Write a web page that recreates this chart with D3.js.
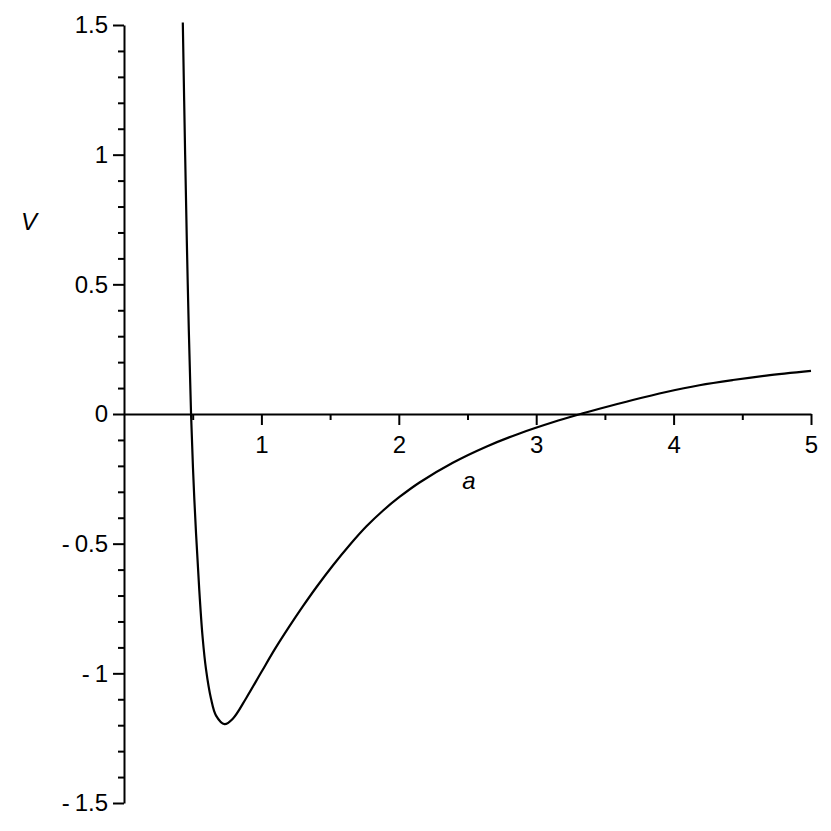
<!DOCTYPE html>
<html>
<head>
<meta charset="utf-8">
<script src="https://cdn.jsdelivr.net/npm/d3@7"></script>
<style>
  body { margin: 0; background: #fff; }
  svg { display: block; }
  text { font-family: "Liberation Sans", Arial, sans-serif; }
</style>
</head>
<body>
<div class="chart"></div>
<script>
// values: potential V against a
var aValues = [0.428, 0.445, 0.464, 0.488, 0.512, 0.548, 0.572, 0.597, 0.633, 0.670,
  0.732, 0.792, 0.89, 1.0, 1.1, 1.2, 1.3, 1.4, 1.52, 1.641,
  1.763, 1.884, 2.005, 2.151, 2.393, 2.636, 2.879, 3.121, 3.31, 3.46,
  3.703, 3.946, 4.188, 4.431, 4.674, 5.0];
var vValues = [1.51, 1.0, 0.5, 0.0, -0.33, -0.68, -0.86, -0.985, -1.097, -1.163,
  -1.196, -1.175, -1.095, -0.995, -0.905, -0.822, -0.743, -0.668, -0.584, -0.506,
  -0.434, -0.373, -0.32, -0.264, -0.188, -0.126, -0.075, -0.032, -0.002, 0.02,
  0.054, 0.085, 0.111, 0.131, 0.148, 0.166];

var xMajorTicks = [1, 2, 3, 4, 5];
var xMinorTicks = [0.5, 1.5, 2.5, 3.5, 4.5];
var yMajorTicks = [-1.5, -1, -0.5, 0, 0.5, 1, 1.5];
var yMinorTicks = d3.range(-15, 16).filter(d => d % 5 !== 0).map(d => d / 10);

var xLabel = "a";
var yLabel = "V";

var svgWidth = 831;
var svgHeight = 831;

var svg = d3.select(".chart")
  .append("svg")
  .attr("width", svgWidth)
  .attr("height", svgHeight);

var xScale = d3.scaleLinear()
  .domain([0, 5])
  .range([124, 811]);

var yScale = d3.scaleLinear()
  .domain([-1.5, 1.5])
  .range([803, 25]);

// maple style minus sign with a little gap
function fmt(d) {
  return d < 0 ? "-\u2009" + Math.abs(d) : String(d);
}

// y axis, minor ticks first
svg.append("g")
  .attr("transform", `translate(${xScale(0)}, 0)`)
  .call(d3.axisLeft(yScale).tickValues(yMinorTicks).tickSize(6).tickSizeOuter(0).tickFormat(""))
  .call(g => g.select(".domain").remove());

svg.append("g")
  .attr("class", "y-axis")
  .attr("transform", `translate(${xScale(0)}, 0)`)
  .call(d3.axisLeft(yScale).tickValues(yMajorTicks).tickSize(11).tickSizeOuter(0)
    .tickPadding(5).tickFormat(fmt));

// x axis through V = 0
svg.append("g")
  .attr("transform", `translate(0, ${yScale(0)})`)
  .call(d3.axisBottom(xScale).tickValues(xMinorTicks).tickSize(6).tickSizeOuter(0).tickFormat(""))
  .call(g => g.select(".domain").remove());

svg.append("g")
  .attr("class", "x-axis")
  .attr("transform", `translate(0, ${yScale(0)})`)
  .call(d3.axisBottom(xScale).tickValues(xMajorTicks).tickSize(11).tickSizeOuter(0)
    .tickPadding(11).tickFormat(fmt));

svg.selectAll(".domain, .tick line")
  .attr("stroke", "#000")
  .attr("stroke-width", 2);

svg.selectAll(".tick text")
  .attr("font-size", 24)
  .attr("font-family", "Liberation Sans, Arial, sans-serif")
  .attr("fill", "#000");

// the curve
var points = aValues.map((a, i) => ({ a: a, v: vValues[i] }));

var line = d3.line()
  .x(d => xScale(d.a))
  .y(d => yScale(d.v))
  .curve(d3.curveCatmullRom.alpha(0.5));

svg.append("path")
  .datum(points)
  .attr("d", line)
  .attr("fill", "none")
  .attr("stroke", "#000")
  .attr("stroke-width", 2.2);

// axis labels
svg.append("text")
  .attr("x", 469)
  .attr("y", 489)
  .attr("text-anchor", "middle")
  .attr("font-size", 24)
  .attr("font-style", "italic")
  .text(xLabel);

svg.append("text")
  .attr("x", 29)
  .attr("y", 230)
  .attr("text-anchor", "middle")
  .attr("font-size", 24)
  .attr("font-style", "italic")
  .text(yLabel);
</script>
</body>
</html>
